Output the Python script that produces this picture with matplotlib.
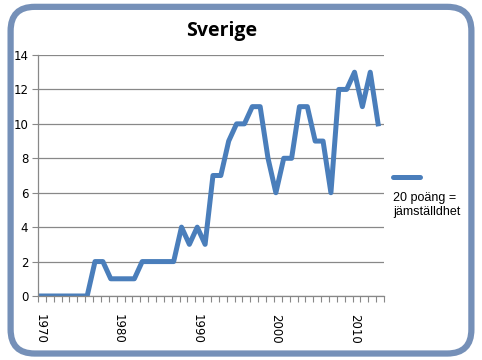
import matplotlib.pyplot as plt
import numpy as np
from matplotlib.patches import FancyBboxPatch
from matplotlib.lines import Line2D

# Data: score per year (20 = equality)
years = list(range(1970, 2014))
scores = [0, 0, 0, 0, 0, 0, 0, 2, 2, 1,
          1, 1, 1, 2, 2, 2, 2, 2, 4, 3,
          4, 3, 7, 7, 9, 10, 10, 11, 11, 8,
          6, 8, 8, 11, 11, 9, 9, 6, 12, 12,
          13, 11, 13, 10]
tick_years = [1970, 1980, 1990, 2000, 2010]
title = 'Sverige'
series_label = '20 poäng =\njämställdhet'

line_color = '#4a7ebb'
border_color = '#7590b8'

fig = plt.figure(figsize=(4.82, 3.60), dpi=100)

# rounded frame around the chart
frame = FancyBboxPatch((0.022, 0.018), 0.956, 0.963,
                       boxstyle='round,pad=0,rounding_size=0.05',
                       transform=fig.transFigure, facecolor='white',
                       edgecolor=border_color, linewidth=4.5,
                       mutation_aspect=482/360, zorder=-5)
fig.patches.append(frame)

ax = fig.add_axes([38/482, 1 - 296/360, 346/482, 241/360])
ax.set_facecolor('none')

x = np.arange(len(years))
ax.plot(x, scores, color=line_color, linewidth=3.6, solid_joinstyle='round')

ax.set_ylim(0, 14)
ax.set_yticks(range(0, 15, 2))
ax.set_xlim(-0.25, 43.5)
ax.set_xticks([years.index(y) for y in tick_years])
ax.set_xticklabels([str(y) for y in tick_years], rotation=270, fontsize=8.5,
                   family='DejaVu Sans')
ax.set_xticks(np.arange(45) - 0.25, minor=True)
ax.tick_params(axis='x', which='major', length=0, pad=13)
ax.tick_params(axis='x', which='minor', length=4, color='#888888', width=0.8)
ax.tick_params(axis='y', length=4, color='#888888', width=0.8, labelsize=8.5, pad=3)

ax.grid(axis='y', color='#888888', linewidth=0.9)
for s in ['top', 'right']:
    ax.spines[s].set_visible(False)
for s in ['left', 'bottom']:
    ax.spines[s].set_color('#888888')
    ax.spines[s].set_linewidth(0.9)

fig.text(222/482, 1 - 31/360, title, ha='center', va='center',
         fontsize=14, fontweight='bold', family='Open Sans')

# legend entry: line sample above the wrapped label
fig.add_artist(Line2D([393/482, 420/482], [1 - 177/360, 1 - 177/360],
                      color=line_color, linewidth=3.6, solid_capstyle='round'))
fig.text(393/482, 1 - 205/360, series_label, ha='left', va='center',
         fontsize=9, family='Liberation Sans', linespacing=1.2)

fig.savefig('out.png', dpi=100)
